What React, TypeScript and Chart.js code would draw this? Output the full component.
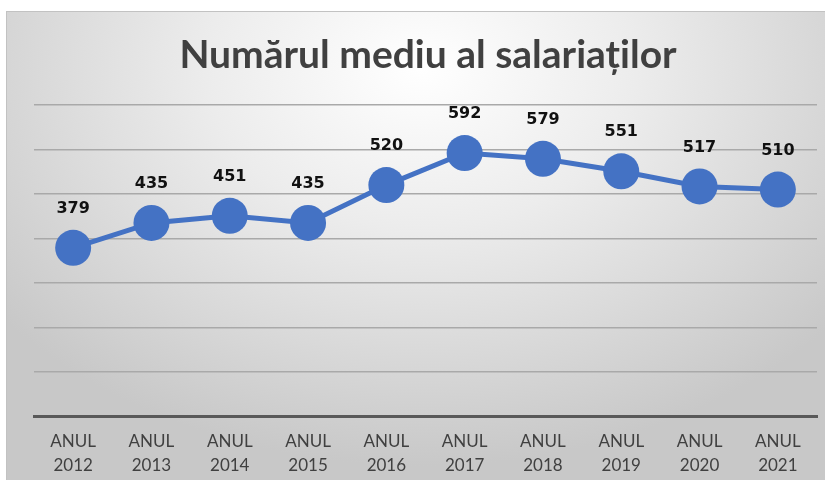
import React, { useEffect, useRef } from "react";
import { Chart, registerables } from "chart.js";

Chart.register(...registerables);

const years = ["2012", "2013", "2014", "2015", "2016", "2017", "2018", "2019", "2020", "2021"];
const categories = years.map((y) => ["ANUL", y]);
const employees = [379, 435, 451, 435, 520, 592, 579, 551, 517, 510];
const titleText = "Numărul mediu al salariaților";

const labelPlugin = {
  id: "pointLabels",
  afterDatasetsDraw(chart: any) {
    const ctx = chart.ctx;
    const meta = chart.getDatasetMeta(0);
    const data = chart.data.datasets[0].data as number[];
    ctx.save();
    ctx.font = "bold 16px 'DejaVu Sans'";
    ctx.fillStyle = "#111111";
    ctx.textAlign = "center";
    ctx.textBaseline = "middle";
    meta.data.forEach((pt: any, i: number) => {
      ctx.fillText(String(data[i]), pt.x, pt.y - 39);
    });
    ctx.restore();
  },
};

const titlePlugin = {
  id: "customTitle",
  afterDraw(chart: any) {
    const ctx = chart.ctx;
    ctx.save();
    ctx.font = "bold 39px Lato";
    ctx.fillStyle = "#404040";
    ctx.textAlign = "center";
    ctx.textBaseline = "middle";
    ctx.fillText(titleText, 421, 43);
    ctx.restore();
  },
};

export default function App() {
  const ref = useRef<HTMLCanvasElement>(null);
  useEffect(() => {
    if (!ref.current) return;
    const chart = new Chart(ref.current, {
      type: "line",
      data: {
        labels: categories,
        datasets: [
          {
            data: employees,
            borderColor: "#4472C4",
            backgroundColor: "#4472C4",
            borderWidth: 5,
            pointRadius: 18,
            pointHoverRadius: 18,
            pointBackgroundColor: "#4472C4",
            pointBorderWidth: 0,
            tension: 0,
          },
        ],
      },
      options: {
        responsive: false,
        animation: false,
        layout: { padding: { left: 27, right: 0, top: 93, bottom: -10 } },
        plugins: {
          legend: { display: false },
          tooltip: { enabled: false },
          title: { display: false },
        },
        scales: {
          x: {
            offset: true,
            grid: { display: false, drawTicks: false },
            border: { display: true, color: "#595959", width: 3 },
            ticks: {
              color: "#404040",
              font: { family: "Lato", size: 17, lineHeight: 1.4 },
              padding: 13,
              maxRotation: 0,
              autoSkip: false,
            },
          },
          y: {
            min: 0,
            max: 700,
            ticks: { display: false, stepSize: 100 },
            grid: { color: "#a9a9a9", lineWidth: 1.5, drawTicks: false },
            border: { display: false },
          },
        },
      },
      plugins: [labelPlugin, titlePlugin],
    });
    return () => chart.destroy();
  }, []);
  return (
    <div
      style={{
        position: "fixed",
        left: 6,
        top: 11,
        width: 829,
        height: 469,
        background:
          "radial-gradient(ellipse 65% 85% at 50% 12%, #ffffff 0%, #ececec 40%, #dadada 70%, #c8c8c8 100%)",
        borderTop: "1px solid #c2c2c2",
        borderLeft: "1px solid #c2c2c2",
        boxSizing: "border-box",
      }}
    >
      <canvas ref={ref} width={828} height={468} style={{ display: "block" }} />
    </div>
  );
}
